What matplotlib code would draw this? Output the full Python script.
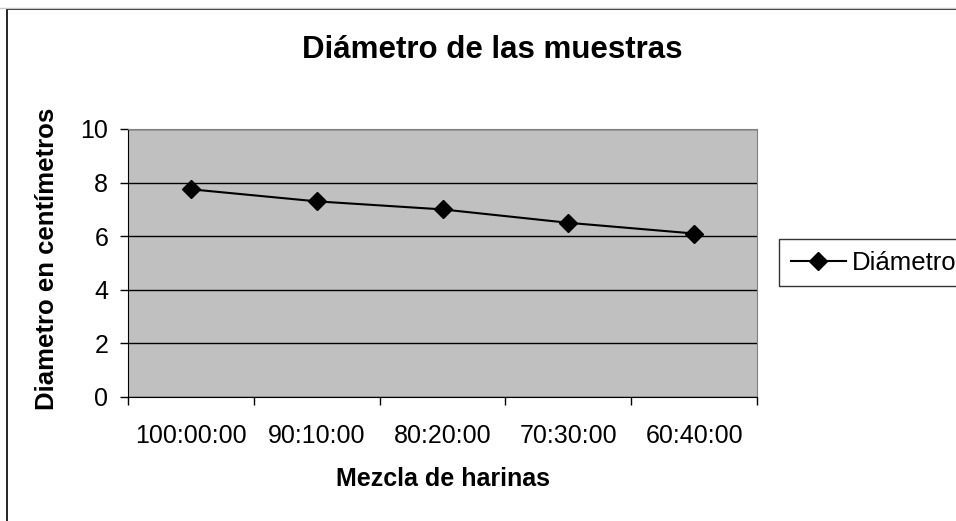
import matplotlib
matplotlib.use("Agg")
import matplotlib.pyplot as plt
from matplotlib.patches import Rectangle
from matplotlib.lines import Line2D

plt.rcParams['font.family'] = ['Liberation Sans', 'DejaVu Sans']

categories = ["100:00:00", "90:10:00", "80:20:00", "70:30:00", "60:40:00"]
diametro = [7.75, 7.3, 7.0, 6.5, 6.1]
y_ticks = [0, 2, 4, 6, 8, 10]

W, H = 956, 521
fig = plt.figure(figsize=(W / 100, H / 100), dpi=100)
fig.patch.set_facecolor("white")


def fx(px):
    return px / W


def fy(py):
    return 1 - py / H


# outer chart frame (runs off the right and bottom edges)
fig.patches.append(Rectangle((fx(7), -0.05), 1.0, fy(9) + 0.05,
                             transform=fig.transFigure, fill=False,
                             edgecolor="black", linewidth=1.2))
fig.add_artist(Line2D([0, 1], [fy(7.5)] * 2, transform=fig.transFigure,
                      color="#c8c8c8", linewidth=1))

left, right, top, bottom = 128, 757, 129, 397
ax = fig.add_axes([fx(left), fy(bottom), fx(right - left), (bottom - top) / H])
ax.set_facecolor("#c0c0c0")

x = [i + 0.5 for i in range(len(categories))]
ax.plot(x, diametro, color="black", linewidth=1.5, marker="D",
        markersize=9, markerfacecolor="black", label="Diámetro", zorder=3)

ax.set_xlim(0, len(categories))
ax.set_ylim(0, 10)
ax.set_yticks(y_ticks)
ax.set_yticklabels([str(t) for t in y_ticks], fontsize=18)
ax.set_xticks(range(len(categories) + 1))
ax.set_xticklabels([])
ax.set_xticks(x, minor=True)
ax.set_xticklabels(categories, minor=True, fontsize=18)
ax.tick_params(axis="x", which="minor", length=0, pad=19.5)
ax.tick_params(axis="x", which="major", direction="out", length=5.8, width=1)
ax.tick_params(axis="y", direction="out", length=5.8, width=1, pad=8.5)

ax.yaxis.grid(True, color="black", linewidth=1)
ax.set_axisbelow(True)
for s in ["top", "right"]:
    ax.spines[s].set_color("#808080")
for s in ["left", "bottom"]:
    ax.spines[s].set_color("black")

h = bottom - top
w = right - left
ax.set_xlabel("Mezcla de harinas", fontsize=18, fontweight="bold", va="baseline")
ax.xaxis.set_label_coords(0.5, (bottom - 486) / h)
ax.set_ylabel("Diametro en centímetros", fontsize=18.5, fontweight="bold", va="center")
ax.yaxis.set_label_coords((47 - left) / w, (bottom - 258.5) / h)

fig.text(fx(492), fy(58.3), "Diámetro de las muestras", fontsize=22.5,
         fontweight="bold", ha="center", va="baseline")

# legend box runs past the right edge of the figure
leg = ax.legend(loc="center left", bbox_to_anchor=(fx(779), fy(262.5)),
                bbox_transform=fig.transFigure, frameon=True, fancybox=False,
                fontsize=18.5, handlelength=2.15, borderpad=0.45,
                handletextpad=0.25, borderaxespad=0)
leg.get_frame().set_edgecolor("black")
leg.get_frame().set_linewidth(1)

fig.savefig("out.png", dpi=100)
